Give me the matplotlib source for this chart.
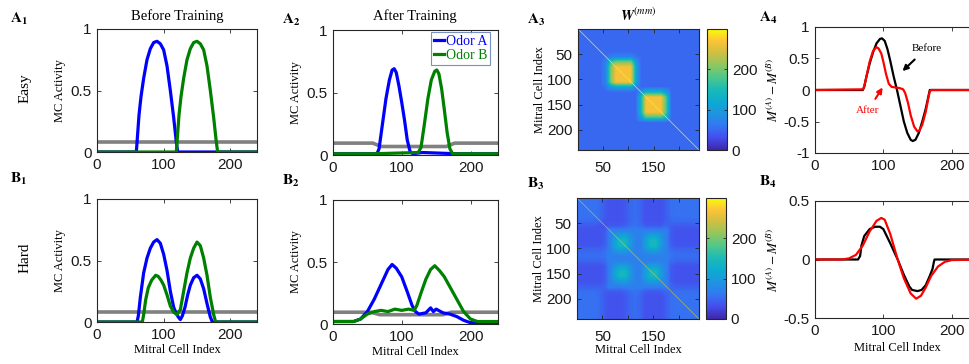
import numpy as np
import matplotlib
matplotlib.use("Agg")
import matplotlib.pyplot as plt
from matplotlib.colors import LinearSegmentedColormap, Normalize

plt.rcParams["font.family"] = "Liberation Sans"
plt.rcParams["mathtext.fontset"] = "stix"
SERIF = "Liberation Serif"

W_PX, H_PX = 969, 364

# ---------------- data ----------------
# A1: easy odors, before training
a1_blue_x = [0, 59, 61, 63, 66, 70, 75, 80, 85, 90, 95, 100, 105, 110, 115, 119, 121, 240]
a1_blue_y = [0, 0, 0.15, 0.3, 0.45, 0.6, 0.75, 0.84, 0.89, 0.9, 0.88, 0.83, 0.7, 0.5, 0.28, 0.08, 0, 0]
a1_green_x = [0, 119, 121, 123, 126, 130, 135, 140, 145, 150, 155, 160, 165, 170, 175, 179, 181, 240]
a1_green_y = [0, 0, 0.15, 0.3, 0.45, 0.6, 0.75, 0.84, 0.89, 0.9, 0.88, 0.83, 0.7, 0.5, 0.28, 0.08, 0, 0]
a1_gray_x = [0, 240]
a1_gray_y = [0.08, 0.08]

# A2: easy odors, after training
a2_blue_x = [0, 64, 67, 72, 77, 82, 86, 89, 92, 96, 100, 104, 108, 112, 116, 130, 180, 240]
a2_blue_y = [0.01, 0.01, 0.05, 0.25, 0.45, 0.6, 0.68, 0.69, 0.66, 0.55, 0.42, 0.28, 0.12, 0.03, 0.01, 0.02, 0.01, 0.01]
a2_green_x = [0, 60, 124, 128, 133, 138, 143, 148, 151, 154, 158, 162, 166, 170, 174, 240]
a2_green_y = [0.01, 0.01, 0.02, 0.06, 0.25, 0.45, 0.6, 0.67, 0.68, 0.65, 0.53, 0.36, 0.18, 0.05, 0.01, 0.01]
a2_gray_x = [0, 58, 70, 165, 177, 240]
a2_gray_y = [0.095, 0.095, 0.068, 0.068, 0.095, 0.095]

# B1: hard odors, before training
b1_blue_x = [0, 60, 62, 65, 70, 75, 80, 85, 90, 95, 100, 105, 110, 115, 118, 122, 125, 128,
             132, 136, 140, 145, 150, 155, 160, 165, 170, 173, 240]
b1_blue_y = [0, 0, 0.05, 0.2, 0.4, 0.52, 0.6, 0.65, 0.67, 0.64, 0.55, 0.42, 0.25, 0.12, 0.08, 0.04, 0.02, 0.05,
             0.12, 0.22, 0.3, 0.36, 0.38, 0.35, 0.27, 0.15, 0.04, 0, 0]
b1_green_x = [0, 68, 70, 73, 77, 82, 88, 92, 96, 100, 105, 110, 115, 120, 125, 130, 135, 140,
              145, 150, 155, 160, 165, 170, 175, 178, 240]
b1_green_y = [0, 0, 0.06, 0.18, 0.28, 0.34, 0.38, 0.37, 0.34, 0.3, 0.22, 0.13, 0.08, 0.06, 0.1, 0.25, 0.4, 0.52,
              0.6, 0.65, 0.62, 0.52, 0.38, 0.2, 0.06, 0, 0]
b1_gray_x = [0, 240]
b1_gray_y = [0.08, 0.08]

# B2: hard odors, after training
b2_blue_x = [0, 30, 40, 50, 60, 70, 80, 86, 92, 100, 108, 115, 120, 125, 135, 142, 146, 150,
             160, 170, 180, 190, 200, 240]
b2_blue_y = [0.02, 0.02, 0.04, 0.1, 0.2, 0.32, 0.44, 0.48, 0.45, 0.38, 0.26, 0.15, 0.1, 0.08, 0.09, 0.13, 0.1, 0.12,
             0.09, 0.08, 0.06, 0.03, 0.01, 0.01]
b2_green_x = [0, 30, 40, 50, 60, 70, 80, 90, 100, 110, 118, 122, 128, 135, 142, 148, 155, 162,
              170, 180, 190, 200, 210, 240]
b2_green_y = [0.02, 0.02, 0.04, 0.08, 0.1, 0.11, 0.1, 0.12, 0.11, 0.12, 0.11, 0.15, 0.25, 0.36, 0.44, 0.47, 0.43, 0.38,
              0.3, 0.2, 0.1, 0.04, 0.02, 0.02]
b2_gray_x = [0, 55, 68, 160, 172, 240]
b2_gray_y = [0.095, 0.095, 0.075, 0.075, 0.095, 0.095]

# A4 / B4: M(A) - M(B)
a4_before_x = [0, 70, 72, 75, 80, 85, 90, 95, 98, 102, 106, 110, 115, 120, 125, 130, 135, 140,
               143, 147, 152, 157, 162, 166, 168, 240]
a4_before_y = [0, 0, 0.05, 0.2, 0.42, 0.6, 0.74, 0.81, 0.82, 0.78, 0.65, 0.47, 0.22, 0.0, -0.25, -0.5, -0.68, -0.79,
               -0.81, -0.79, -0.68, -0.5, -0.3, -0.1, 0, 0]
a4_after_x = [0, 70, 72, 76, 80, 85, 90, 93, 97, 100, 104, 108, 112, 118, 124, 129, 132, 136,
              140, 145, 150, 153, 157, 162, 166, 168, 170, 240]
a4_after_y = [0, 0.01, 0.05, 0.25, 0.45, 0.62, 0.68, 0.66, 0.58, 0.45, 0.25, 0.1, 0.05, 0.04, 0.03, 0.01, -0.05, -0.2,
              -0.4, -0.58, -0.66, -0.64, -0.55, -0.35, -0.12, -0.02, 0, 0]
b4_before_x = [0, 63, 66, 68, 72, 80, 88, 95, 100, 110, 121, 130, 138, 142, 150, 156, 162, 168,
               172, 174, 175, 240]
b4_before_y = [0, 0, 0.03, 0.12, 0.2, 0.26, 0.28, 0.28, 0.26, 0.14, 0, -0.13, -0.23, -0.26, -0.27, -0.26, -0.22, -0.14,
               -0.08, -0.02, 0, 0]
b4_after_x = [0, 40, 50, 60, 70, 80, 90, 97, 102, 110, 121, 130, 140, 148, 155, 162, 170, 180,
              190, 200, 240]
b4_after_y = [0, 0, 0.01, 0.04, 0.12, 0.24, 0.33, 0.355, 0.34, 0.22, 0.0, -0.16, -0.29, -0.335, -0.31, -0.24, -0.14, -0.06,
              -0.02, -0.005, 0]

# W(mm) weight matrices, profiles read on a 10-cell grid (cell centres 5..235)
a3_block1 = [0, 0, 0, 0, 0, 0.1, 0.7, 1, 1, 1, 1, 0.3, 0, 0, 0, 0, 0, 0, 0, 0, 0, 0, 0, 0]
a3_block2 = [0, 0, 0, 0, 0, 0, 0, 0, 0, 0, 0, 0, 0.4, 1, 1, 1, 1, 0.6, 0, 0, 0, 0, 0, 0]
a3_levels = {"bg": 50, "block": 215, "diag": 295}

b3_blob = [0, 0, 0, 0, 0, 0, 0, 0.6, 1, 1, 0.4, 0, 0, 0.5, 1, 1, 0.45, 0, 0, 0, 0, 0, 0, 0]
b3_band = [0, 0, 0, 0, 0.2, 0.7, 1, 1, 1, 0.8, 0.3, 0.1, 0.4, 1, 1, 1, 1, 0.6, 0.1, 0, 0, 0, 0, 0]
b3_square = [0, 0, 0, 0, 0, 0.2, 1, 1, 1, 1, 1, 1, 1, 1, 1, 1, 1, 1, 0.2, 0, 0, 0, 0, 0]
b3_levels = {"bg": 56, "square": 14, "blob": 72, "band": 22, "diag": 230}

W_MAX = 300
cbar_ticks = [0, 100, 200]

# parula-like colour map
parula = LinearSegmentedColormap.from_list("parula_like", [
    (0.00, (0.24, 0.15, 0.66)),
    (0.10, (0.27, 0.30, 0.93)),
    (0.20, (0.20, 0.47, 0.95)),
    (0.30, (0.12, 0.58, 0.88)),
    (0.40, (0.05, 0.67, 0.82)),
    (0.50, (0.10, 0.73, 0.72)),
    (0.60, (0.30, 0.78, 0.55)),
    (0.70, (0.55, 0.78, 0.38)),
    (0.80, (0.80, 0.75, 0.26)),
    (0.90, (0.99, 0.76, 0.22)),
    (1.00, (0.98, 0.98, 0.05)),
])
norm = Normalize(0, W_MAX)

BLUE = (0, 0, 1)
GREEN = (0, 0.5, 0)
GRAY = (0.5, 0.5, 0.5)
AXC = "0.15"


def px_axes(fig, x0, y0, x1, y1):
    return fig.add_axes([x0 / W_PX, 1 - y1 / H_PX, (x1 - x0) / W_PX, (y1 - y0) / H_PX])


def matlab_style(ax):
    ax.tick_params(direction="in", top=True, right=True, length=3, width=0.6,
                   labelsize=11, pad=4, colors=AXC, labelcolor="0.1")
    for sp in ax.spines.values():
        sp.set_linewidth(0.8)
        sp.set_color(AXC)


def ftext(x, y, s, **kw):
    fig.text(x / W_PX, 1 - y / H_PX, s, **kw)


def activity_panel(ax, gx, gy, bx, by, gnx, gny):
    ax.plot(gx, gy, color=GRAY, lw=2.6, solid_capstyle="butt")
    ax.plot(bx, by, color=BLUE, lw=2.3)
    ax.plot(gnx, gny, color=GREEN, lw=2.3)
    ax.set_xlim(0, 240)
    ax.set_ylim(0, 1)
    ax.set_xticks([0, 100, 200])
    ax.set_yticks([0, 0.5, 1])
    ax.set_yticklabels(["0", "0.5", "1"])
    ax.set_ylabel("MC Activity", family=SERIF, fontsize=9, labelpad=3)
    matlab_style(ax)


def weight_panel(fig, box, cbox, W, diag_val, xlabel=False):
    ax = px_axes(fig, *box)
    im = ax.imshow(W, cmap=parula, norm=norm, extent=(0, 240, 240, 0),
                   interpolation="bilinear", aspect="auto")
    ax.plot([0, 240], [0, 240], color=parula(norm(diag_val)), lw=0.5, alpha=0.9)
    ax.set_xlim(0, 240)
    ax.set_ylim(240, 0)
    ax.set_xticks([50, 100, 150, 200])
    ax.set_xticklabels(["50", "", "150", ""])
    ax.set_yticks([50, 100, 150, 200])
    ax.set_ylabel("Mitral Cell Index", family=SERIF, fontsize=9, labelpad=1)
    if xlabel:
        ax.set_xlabel("Mitral Cell Index", family=SERIF, fontsize=9, labelpad=0)
    matlab_style(ax)
    ax.tick_params(axis="x", pad=8)
    cax = px_axes(fig, *cbox)
    cb = fig.colorbar(im, cax=cax)
    cb.set_ticks(cbar_ticks)
    cax.tick_params(direction="in", left=True, right=True, length=2.5, width=0.6,
                    labelsize=11, colors=AXC, labelcolor="0.1")
    cb.outline.set_linewidth(0.8)
    cb.outline.set_edgecolor(AXC)
    return ax


def diff_panel(ax, bx, by, ax_, ay, ylim, yticks, yticklabels):
    ax.plot(bx, by, color="k", lw=1.6)
    ax.plot(ax_, ay, color="r", lw=1.6)
    ax.set_xlim(0, 240)
    ax.set_ylim(*ylim)
    ax.set_xticks([0, 100, 200])
    ax.set_yticks(yticks)
    ax.set_yticklabels(yticklabels)
    ax.set_ylabel(r"$M^{(A)} - M^{(B)}$", fontsize=9.5, labelpad=2)
    matlab_style(ax)


fig = plt.figure(figsize=(W_PX / 100, H_PX / 100), dpi=100)

# row A
ax_a1 = px_axes(fig, 97, 29, 257, 152)
activity_panel(ax_a1, a1_gray_x, a1_gray_y, a1_blue_x, a1_blue_y, a1_green_x, a1_green_y)

ax_a2 = px_axes(fig, 333, 30, 498, 155)
activity_panel(ax_a2, a2_gray_x, a2_gray_y, a2_blue_x, a2_blue_y, a2_green_x, a2_green_y)
leg = ax_a2.legend(ax_a2.lines[1:], ["Odor A", "Odor B"], loc="upper right",
                   bbox_to_anchor=(0.95, 0.985), borderaxespad=0, handlelength=0.7,
                   handletextpad=0.15, borderpad=0.2, labelspacing=0.1, fancybox=False,
                   prop={"family": SERIF, "size": 10})
leg.get_frame().set_edgecolor((0.35, 0.45, 0.7))
leg.get_frame().set_linewidth(0.8)
for txt, c in zip(leg.get_texts(), [BLUE, GREEN]):
    txt.set_color(c)

g = np.asarray
a3_W = (a3_levels["bg"] + a3_levels["block"] *
        (np.outer(g(a3_block1), g(a3_block1)) + np.outer(g(a3_block2), g(a3_block2))))
weight_panel(fig, (578, 29, 699, 150), (707, 29, 727, 150), a3_W, a3_levels["diag"])

sq = g(b3_square)
b3_W = (b3_levels["bg"] + b3_levels["square"] * np.outer(sq, sq)
        + b3_levels["blob"] * np.outer(g(b3_blob), g(b3_blob))
        - b3_levels["band"] * (np.outer(g(b3_band), 1 - sq) + np.outer(1 - sq, g(b3_band))))
weight_panel(fig, (577, 198, 699, 319), (706, 198, 726, 319), b3_W, b3_levels["diag"], xlabel=True)

ax_a4 = px_axes(fig, 815, 27, 979, 153)
diff_panel(ax_a4, a4_before_x, a4_before_y, a4_after_x, a4_after_y, (-1, 1),
           [-1, -0.5, 0, 0.5, 1], ["-1", "-0.5", "0", "0.5", "1"])
ax_a4.annotate("Before", xy=(128, 0.3), xytext=(163, 0.66), ha="center", va="center",
               family=SERIF, fontsize=8, color="k",
               arrowprops=dict(arrowstyle="-|>", color="k", lw=1.5, mutation_scale=8, shrinkA=4, shrinkB=0))
ax_a4.annotate("After", xy=(99, 0.04), xytext=(77, -0.33), ha="center", va="center",
               family=SERIF, fontsize=8, color="r",
               arrowprops=dict(arrowstyle="-|>", color="r", lw=1.5, mutation_scale=8, shrinkA=4, shrinkB=0))

# row B
ax_b1 = px_axes(fig, 97, 199, 257, 322)
activity_panel(ax_b1, b1_gray_x, b1_gray_y, b1_blue_x, b1_blue_y, b1_green_x, b1_green_y)
ax_b1.set_xlabel("Mitral Cell Index", family=SERIF, fontsize=9, labelpad=2)

ax_b2 = px_axes(fig, 333, 200, 498, 324)
activity_panel(ax_b2, b2_gray_x, b2_gray_y, b2_blue_x, b2_blue_y, b2_green_x, b2_green_y)
ax_b2.set_xlabel("Mitral Cell Index", family=SERIF, fontsize=9, labelpad=2)

ax_b4 = px_axes(fig, 815, 201, 979, 318)
diff_panel(ax_b4, b4_before_x, b4_before_y, b4_after_x, b4_after_y, (-0.5, 0.5),
           [-0.5, 0, 0.5], ["-0.5", "0", "0.5"])
ax_b4.set_xlabel("Mitral Cell Index", family=SERIF, fontsize=9, labelpad=3)

# titles, row names and panel letters
ftext(177, 16, "Before Training", family=SERIF, fontsize=10.5, ha="center", va="center")
ftext(415, 16, "After Training", family=SERIF, fontsize=10.5, ha="center", va="center")
ftext(638, 15, r"$\boldsymbol{W}^{(mm)}$", fontsize=10.5, ha="center", va="center")
ftext(25, 88, "Easy", family=SERIF, fontsize=11, rotation=90, ha="center", va="center")
ftext(25, 258, "Hard", family=SERIF, fontsize=11, rotation=90, ha="center", va="center")

panel_letters = [("A", "1", 10, 23), ("A", "2", 282, 24), ("A", "3", 527, 24), ("A", "4", 759, 22),
                 ("B", "1", 10, 183), ("B", "2", 282, 185), ("B", "3", 527, 188), ("B", "4", 759, 186)]
for letter, num, x, y in panel_letters:
    ftext(x, y, r"$\mathbf{%s}_{\mathbf{%s}}$" % (letter, num), fontsize=11, ha="left", va="baseline")

fig.savefig("out.png", dpi=100)
